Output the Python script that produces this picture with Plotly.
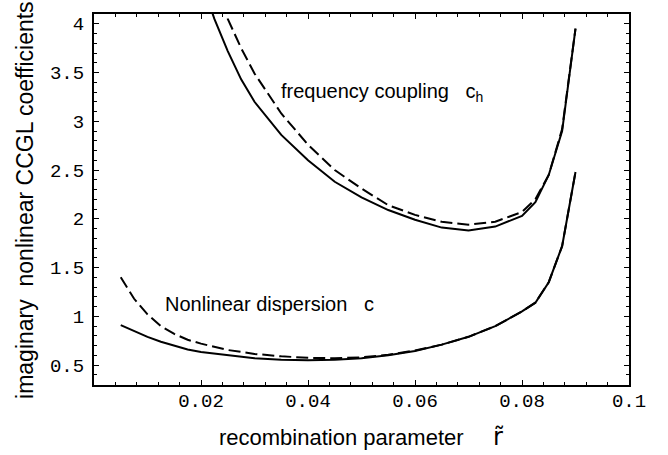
import plotly.graph_objects as go

# frequency coupling c_h (solid) and its dashed counterpart
x_ch_solid = [0.020, 0.0225, 0.025, 0.0275, 0.030, 0.035, 0.040, 0.045, 0.050, 0.055,
              0.060, 0.065, 0.070, 0.075, 0.080, 0.0825, 0.085, 0.0875, 0.090]
y_ch_solid = [4.45, 4.05, 3.72, 3.43, 3.20, 2.86, 2.60, 2.38, 2.22, 2.09,
              1.99, 1.91, 1.88, 1.92, 2.03, 2.17, 2.45, 2.90, 3.95]

x_ch_dash = [0.022, 0.025, 0.0275, 0.030, 0.035, 0.040, 0.045, 0.050, 0.055,
             0.060, 0.065, 0.070, 0.075, 0.080, 0.0825, 0.085, 0.0875, 0.090]
y_ch_dash = [4.55, 4.05, 3.75, 3.49, 3.08, 2.76, 2.50, 2.31, 2.14,
             2.04, 1.97, 1.94, 1.97, 2.07, 2.20, 2.45, 2.92, 3.95]

# nonlinear dispersion c (solid) and dashed counterpart
x_c_solid = [0.005, 0.0075, 0.010, 0.0125, 0.015, 0.0175, 0.020, 0.025, 0.030, 0.035,
             0.040, 0.045, 0.050, 0.055, 0.060, 0.065, 0.070, 0.075, 0.080, 0.0825,
             0.085, 0.0875, 0.090]
y_c_solid = [0.91, 0.85, 0.79, 0.74, 0.70, 0.66, 0.635, 0.60, 0.57, 0.555,
             0.55, 0.555, 0.57, 0.60, 0.645, 0.71, 0.79, 0.90, 1.05, 1.14,
             1.35, 1.72, 2.48]

x_c_dash = [0.005, 0.0075, 0.010, 0.0125, 0.015, 0.0175, 0.020, 0.025, 0.030, 0.035,
            0.040, 0.045, 0.050, 0.055, 0.060, 0.065, 0.070, 0.075, 0.080, 0.0825,
            0.085, 0.0875, 0.090]
y_c_dash = [1.40, 1.18, 1.02, 0.90, 0.82, 0.76, 0.72, 0.655, 0.615, 0.59,
            0.575, 0.57, 0.58, 0.605, 0.65, 0.71, 0.79, 0.90, 1.05, 1.14,
            1.35, 1.72, 2.48]

x_tickvals = [0.02, 0.04, 0.06, 0.08, 0.1]
x_ticktext = ["0.02", "0.04", "0.06", "0.08", "0.1"]
y_tickvals = [0.5, 1.0, 1.5, 2.0, 2.5, 3.0, 3.5, 4.0]
y_ticktext = ["0.5", "1", "1.5", "2", "2.5", "3", "3.5", "4"]

label_ch = "frequency coupling\u00a0\u00a0\u00a0c<sub>h</sub>"
label_c = "Nonlinear dispersion\u00a0\u00a0\u00a0c"
x_title = "recombination parameter"
x_symbol = "r\u0303"
y_title = "imaginary\u00a0\u00a0nonlinear CCGL coefficients"

fig = go.Figure()
solid = dict(color="black", width=2)
dashed = dict(color="black", width=2, dash="12px,5px")
fig.add_trace(go.Scatter(x=x_ch_solid, y=y_ch_solid, mode="lines", line=solid))
fig.add_trace(go.Scatter(x=x_ch_dash, y=y_ch_dash, mode="lines", line=dashed))
fig.add_trace(go.Scatter(x=x_c_dash, y=y_c_dash, mode="lines", line=dashed))
fig.add_trace(go.Scatter(x=x_c_solid, y=y_c_solid, mode="lines", line=solid))

tickfont = dict(family="Liberation Mono", size=19, color="black")
fig.update_xaxes(range=[0, 0.1], tickvals=x_tickvals, ticktext=x_ticktext,
                 ticks="inside", ticklen=5, tickwidth=1, tickcolor="black",
                 minor=dict(ticks="inside", dtick=0.004, ticklen=3, tickcolor="black"),
                 showline=True, linecolor="black", linewidth=2, mirror="ticks",
                 showgrid=False, zeroline=False, tickfont=tickfont,
                 ticklabelstandoff=-3)
fig.update_yaxes(range=[0.296, 4.1], tickvals=y_tickvals, ticktext=y_ticktext,
                 ticks="inside", ticklen=5, tickwidth=1, tickcolor="black",
                 minor=dict(ticks="inside", dtick=0.1, ticklen=3, tickcolor="black"),
                 showline=True, linecolor="black", linewidth=2, mirror="ticks",
                 showgrid=False, zeroline=False, tickfont=tickfont,
                 ticklabelstandoff=4)

afont = dict(family="Liberation Sans", size=20, color="black")
tfont = dict(family="Liberation Sans", size=22, color="black")
fig.add_annotation(x=0.0346, y=3.296, xref="x", yref="y", text=label_ch,
                   showarrow=False, xanchor="left", yanchor="middle", font=afont)
fig.add_annotation(x=0.0129, y=1.122, xref="x", yref="y", text=label_c,
                   showarrow=False, xanchor="left", yanchor="middle", font=afont)
fig.add_annotation(x=0.4617, y=-0.142, xref="paper", yref="paper", text=x_title,
                   showarrow=False, xanchor="center", yanchor="middle", font=tfont)
fig.add_annotation(x=0.755, y=-0.140, xref="paper", yref="paper", text=x_symbol,
                   showarrow=False, xanchor="center", yanchor="middle",
                   font=dict(family="DejaVu Sans", size=24, color="black"))
fig.add_annotation(x=-0.129, y=0.4987, xref="paper", yref="paper", text=y_title,
                   showarrow=False, xanchor="center", yanchor="middle", textangle=-90,
                   font=dict(family="Liberation Sans", size=23, color="black"))

fig.update_layout(width=668, height=455, margin=dict(l=94, r=39, t=12, b=70),
                  paper_bgcolor="white", plot_bgcolor="white", showlegend=False)
fig.write_html("out.html")
